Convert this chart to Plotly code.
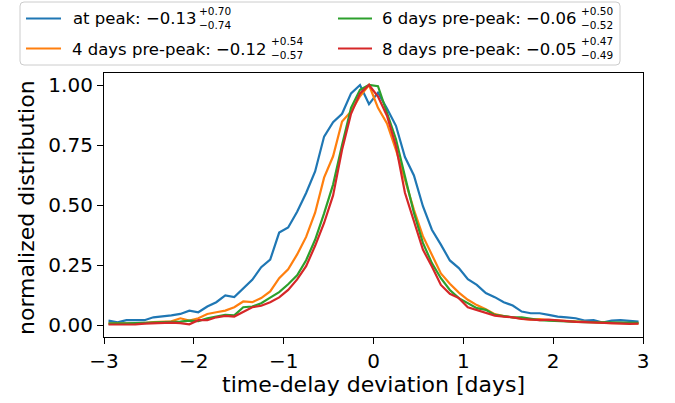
import numpy as np
import plotly.graph_objects as go

# bin centres (days)
x_centers = [round(-2.95 + 0.1 * i, 2) for i in range(60)]

at_peak = [0.018, 0.011, 0.02, 0.02, 0.02, 0.032, 0.035, 0.04, 0.046, 0.06,
           0.053, 0.077, 0.095, 0.123, 0.116, 0.153, 0.188, 0.241, 0.272, 0.385,
           0.406, 0.472, 0.55, 0.64, 0.785, 0.845, 0.88, 0.965, 1.0, 0.92,
           0.968, 0.902, 0.83, 0.70, 0.623, 0.495, 0.397, 0.335, 0.269, 0.237,
           0.191, 0.167, 0.133, 0.116, 0.095, 0.081, 0.056, 0.049, 0.049, 0.042,
           0.035, 0.032, 0.028, 0.018, 0.02, 0.01, 0.018, 0.02, 0.018, 0.014]

pre4 = [0.007, 0.007, 0.007, 0.008, 0.008, 0.012, 0.013, 0.015, 0.028, 0.018,
        0.028, 0.046, 0.053, 0.06, 0.074, 0.098, 0.095, 0.112, 0.14, 0.195,
        0.232, 0.294, 0.367, 0.468, 0.614, 0.703, 0.848, 0.89, 0.953, 1.0,
        0.905, 0.84, 0.73, 0.60, 0.48, 0.37, 0.29, 0.215, 0.172, 0.135,
        0.105, 0.083, 0.066, 0.045, 0.037, 0.030, 0.026, 0.022, 0.025, 0.02,
        0.018, 0.015, 0.013, 0.012, 0.01, 0.01, 0.008, 0.008, 0.007, 0.007]

pre6 = [0.007, 0.006, 0.007, 0.008, 0.01, 0.01, 0.012, 0.013, 0.014, 0.018,
        0.016, 0.028, 0.035, 0.042, 0.04, 0.074, 0.077, 0.091, 0.114, 0.137,
        0.17, 0.207, 0.27, 0.355, 0.465, 0.585, 0.75, 0.905, 0.98, 1.0,
        0.995, 0.885, 0.774, 0.62, 0.467, 0.342, 0.258, 0.195, 0.146, 0.112,
        0.091, 0.07, 0.063, 0.042, 0.037, 0.032, 0.032, 0.025, 0.02, 0.018,
        0.016, 0.015, 0.014, 0.012, 0.012, 0.011, 0.01, 0.01, 0.01, 0.009]

pre8 = [0.002, 0.002, 0.003, 0.003, 0.006, 0.008, 0.008, 0.01, 0.008, 0.003,
        0.02, 0.02, 0.032, 0.038, 0.035, 0.056, 0.074, 0.08, 0.095, 0.115,
        0.146, 0.19, 0.245, 0.33, 0.425, 0.54, 0.73, 0.88, 0.965, 1.0,
        0.952, 0.872, 0.746, 0.551, 0.432, 0.314, 0.244, 0.167, 0.13, 0.112,
        0.074, 0.063, 0.053, 0.039, 0.035, 0.032, 0.025, 0.022, 0.02, 0.022,
        0.018, 0.015, 0.013, 0.012, 0.01, 0.008, 0.008, 0.006, 0.005, 0.006]

series_names = ["at peak", "4 days pre-peak", "6 days pre-peak", "8 days pre-peak"]
series_vals = [at_peak, pre4, pre6, pre8]
series_center = ["−0.13", "−0.12", "−0.06", "−0.05"]
series_up = ["+0.70", "+0.54", "+0.50", "+0.47"]
series_dn = ["−0.74", "−0.57", "−0.52", "−0.49"]
colors = ["#1f77b4", "#ff7f0e", "#2ca02c", "#d62728"]

x_ticks = [-3, -2, -1, 0, 1, 2, 3]
x_ticktext = ["−3", "−2", "−1", "0", "1", "2", "3"]
y_ticks = [0, 0.25, 0.5, 0.75, 1.0]
y_ticktext = ["0.00", "0.25", "0.50", "0.75", "1.00"]

W, H = 675, 403
ML, MR, MT, MB = 104, 32, 73, 66
PW, PH = W - ML - MR, H - MT - MB


def px(xp):
    return (xp - ML) / PW


def py(yp):
    return (H - MB - yp) / PH


FONT = "DejaVu Sans"

fig = go.Figure()
for name, vals, c in zip(series_names, series_vals, colors):
    fig.add_trace(go.Scatter(x=x_centers, y=vals, mode="lines", name=name,
                             line=dict(color=c, width=2.2), showlegend=False))

shapes = []
annotations = []

# legend frame (rounded)
x0, x1, y0, y1 = px(20), px(620), py(2), py(65)
rx, ry = 4 / PW, 4 / PH
path = (f"M{x0+rx},{y0} L{x1-rx},{y0} Q{x1},{y0} {x1},{y0-ry} "
        f"L{x1},{y1+ry} Q{x1},{y1} {x1-rx},{y1} L{x0+rx},{y1} "
        f"Q{x0},{y1} {x0},{y1+ry} L{x0},{y0-ry} Q{x0},{y0} {x0+rx},{y0} Z")
shapes.append(dict(type="path", xref="paper", yref="paper", path=path,
                   line=dict(color="#cccccc", width=1), fillcolor="rgba(255,255,255,0.8)",
                   layer="above"))

# legend entries: (line x0, line x1, row y, text join x)
entry_pos = [(26, 61, 18.5, 196.5), (26, 61, 48.5, 268),
             (338, 372, 18.5, 578), (338, 372, 48.5, 578)]
for i, (lx0, lx1, ry_, jx) in enumerate(entry_pos):
    shapes.append(dict(type="line", xref="paper", yref="paper",
                       x0=px(lx0), x1=px(lx1), y0=py(ry_), y1=py(ry_),
                       line=dict(color=colors[i], width=2.2), layer="above"))
    annotations.append(dict(xref="paper", yref="paper", x=px(jx), y=py(ry_ + 0.5),
                            xanchor="right", yanchor="middle", showarrow=False,
                            borderpad=0,
                            text=f"{series_names[i]}: {series_center[i]}",
                            font=dict(family=FONT, size=16.5, color="#000000")))
    annotations.append(dict(xref="paper", yref="paper", x=px(jx + 1.5), y=py(ry_ - 0.5),
                            xanchor="left", yanchor="middle", showarrow=False,
                            borderpad=0, align="left",
                            text=f"{series_up[i]}<br>{series_dn[i]}",
                            font=dict(family=FONT, size=10.5, color="#000000")))

# axis titles
annotations.append(dict(xref="paper", yref="paper", x=0.5, y=py(384),
                        xanchor="center", yanchor="middle", showarrow=False,
                        text="time-delay deviation [days]",
                        font=dict(family=FONT, size=22, color="#000000")))
annotations.append(dict(xref="paper", yref="paper", x=px(26), y=py(208),
                        xanchor="center", yanchor="middle", showarrow=False, textangle=-90,
                        text="normalized distribution",
                        font=dict(family=FONT, size=22, color="#000000")))

axis_common = dict(showgrid=False, zeroline=False, showline=True, mirror=True,
                   linecolor="#000000", linewidth=1.2, ticks="outside", ticklen=6,
                   tickwidth=1.2, tickcolor="#000000",
                   tickfont=dict(family=FONT, size=20, color="#000000"))

fig.update_layout(
    width=W, height=H, autosize=False,
    margin=dict(l=ML, r=MR, t=MT, b=MB, pad=0),
    paper_bgcolor="white", plot_bgcolor="white",
    font=dict(family=FONT, color="#000000"),
    xaxis=dict(range=[-3, 3], tickvals=x_ticks, ticktext=x_ticktext, **axis_common),
    yaxis=dict(range=[-0.05, 1.05], tickvals=y_ticks, ticktext=y_ticktext, **axis_common),
    shapes=shapes, annotations=annotations, showlegend=False,
)

fig.write_html("out.html", config={"displayModeBar": False},
               post_script="document.body.style.margin='0px';")
